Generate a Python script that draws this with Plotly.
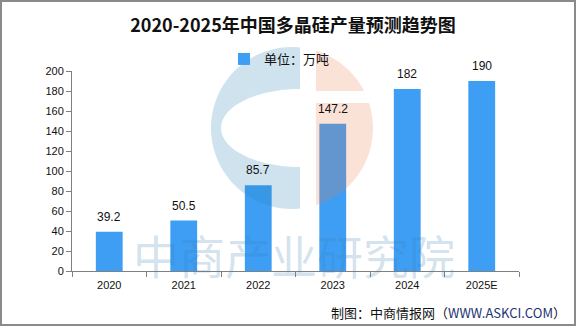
import math
import plotly.graph_objects as go

# ---- data ----
categories = ["2020", "2021", "2022", "2023", "2024", "2025E"]
values = [39.2, 50.5, 85.7, 147.2, 182, 190]
value_labels = ["39.2", "50.5", "85.7", "147.2", "182", "190"]
y_ticks = [0, 20, 40, 60, 80, 100, 120, 140, 160, 180, 200]
series_name = "单位：万吨"
title_text = "2020-2025年中国多晶硅产量预测趋势图"
footer_text = "制图：中商情报网（<span style='color:#1d3275'>WWW.ASKCI.COM</span>）"
watermark_text = "中商产业研究院"

W, H = 585, 327
L, R, T, B = 72, 66, 71, 56
PW, PH = W - L - R, H - T - B

def px(x):
    return (x - L) / PW

def py(y):
    return (H - B - y) / PH

def path_from(points):
    return "M " + " L ".join(f"{px(x):.5f},{py(y):.5f}" for x, y in points) + " Z"

# logo geometry (pixels)
cx, cy, rad = 292, 128, 81

def arc(a0, a1, n=40):
    pts = []
    for i in range(n + 1):
        a = a0 + (a1 - a0) * i / n
        pts.append((cx + rad * math.cos(a), cy + rad * math.sin(a)))
    return pts

def ang(x, y):
    return math.atan2(y - cy, x - cx)

# blue "C"
xb = 300
dyb = math.sqrt(rad**2 - (xb - cx) ** 2)
a_top = ang(xb, cy - dyb)
a_bot = ang(xb, cy + dyb)
outer = arc(a_top, a_top - (2 * math.pi - (a_bot - a_top)), 60)
inner = []
rx_in, ry_in = 79, 39
for i in range(41):
    a = math.pi / 2 + math.pi * i / 40
    inner.append((xb + rx_in * math.cos(a), 128 + ry_in * math.sin(a)))
blue_pts = outer + [(xb, 167)] + inner[1:-1] + [(xb, 89)]
blue_path = path_from(blue_pts)

# orange "i"
xs = 316
top_y = cy - math.sqrt(rad**2 - (xs - cx) ** 2)
a1 = ang(xs, top_y)
a2 = -math.asin((cy - 91) / rad)
dot_pts = arc(a1, a2, 30) + [(xs, 91)]
a3 = -math.asin((cy - 103) / rad)
a4 = ang(xs, cy + math.sqrt(rad**2 - (xs - cx) ** 2))
body_pts = [(xs, 103)] + arc(a3, a4, 40)
dot_path = path_from(dot_pts)
body_path = path_from(body_pts)

fig = go.Figure()
fig.add_trace(go.Bar(
    x=categories, y=values, name=series_name,
    marker=dict(color="#3d9ef4", line=dict(width=0)),
    showlegend=True,
))

annotations = []
for i, (v, t) in enumerate(zip(values, value_labels)):
    annotations.append(dict(
        x=i, y=v, text=t, showarrow=False, yanchor="bottom", yshift=6,
        font=dict(family="Liberation Sans, Arial", size=12, color="#111111"),
    ))
annotations.append(dict(
    xref="paper", yref="paper", x=px(568), y=py(312), xanchor="right", yanchor="middle",
    text=footer_text, showarrow=False,
    font=dict(family="Noto Sans CJK SC, Liberation Sans", size=13, color="#111111"),
))
annotations.append(dict(
    xref="paper", yref="paper", x=px(294), y=py(254), xanchor="center", yanchor="middle",
    text=watermark_text, showarrow=False, borderpad=0,
    font=dict(family="Noto Sans CJK SC", size=46, color="rgba(60,130,180,0.24)"),
))

shapes = [
    dict(type="path", xref="paper", yref="paper", path=blue_path, layer="above",
         fillcolor="rgba(48,132,180,0.23)", line=dict(width=0)),
    dict(type="path", xref="paper", yref="paper", path=dot_path, layer="above",
         fillcolor="rgba(236,123,73,0.22)", line=dict(width=0)),
    dict(type="path", xref="paper", yref="paper", path=body_path, layer="above",
         fillcolor="rgba(236,123,73,0.22)", line=dict(width=0)),
    dict(type="rect", xref="paper", yref="paper", x0=px(1), y0=py(325), x1=px(575), y1=py(1),
         line=dict(color="#8a8a8a", width=2), fillcolor="rgba(0,0,0,0)", layer="above"),
]

fig.update_layout(
    width=W, height=H,
    margin=dict(l=L, r=R, t=T, b=B, pad=0),
    paper_bgcolor="white", plot_bgcolor="white",
    bargap=0.64,
    title=dict(text=f"<b>{title_text}</b>", x=293 / W, xanchor="center",
               y=1 - 26 / H, yanchor="middle",
               font=dict(family="Noto Sans CJK SC", size=18, color="#111111")),
    legend=dict(orientation="h", x=px(224), y=py(44), xanchor="left", yanchor="top",
                font=dict(family="Noto Sans CJK SC", size=13, color="#111111"),
                bgcolor="rgba(0,0,0,0)", itemwidth=30, itemsizing="constant"),
    xaxis=dict(type="category", range=[-0.5, len(categories) - 0.5], autorange=False,
               showline=True, linecolor="#808080", linewidth=1,
               ticks="outside", tickson="boundaries", ticklen=5, tickcolor="#808080",
               ticklabelstandoff=4,
               showgrid=False, zeroline=False,
               tickfont=dict(family="Liberation Sans, Arial", size=11, color="#111111")),
    yaxis=dict(range=[0, 200], autorange=False, tickvals=y_ticks, showline=True,
               linecolor="#808080", linewidth=1, ticks="outside", ticklen=5,
               tickcolor="#808080", showgrid=False, zeroline=False,
               tickfont=dict(family="Liberation Sans, Arial", size=11, color="#111111")),
    annotations=annotations,
    shapes=shapes,
)

fig.write_html("out.html")
